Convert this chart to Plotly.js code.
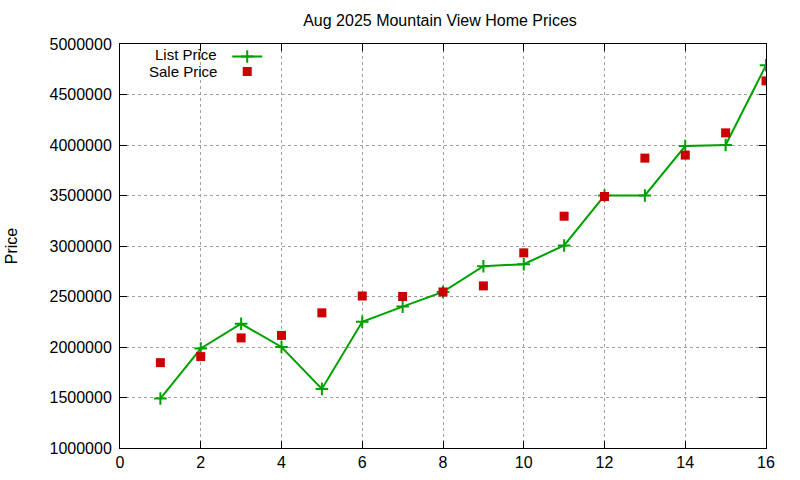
<!DOCTYPE html>
<html>
<head>
<meta charset="utf-8">
<script src="https://cdn.plot.ly/plotly-3.0.1.min.js"></script>
<style>
  body { margin: 0; background: #fff; }
  #chart { width: 800px; height: 480px; }
</style>
</head>
<body>
<div id="chart"></div>
<script>
// values
var homes = [1, 2, 3, 4, 5, 6, 7, 8, 9, 10, 11, 12, 13, 14, 15, 16];
var listPrice = [1490000, 1985000, 2230000, 2000000, 1585000, 2250000, 2400000, 2545000,
                 2800000, 2820000, 3005000, 3500000, 3500000, 3990000, 4000000, 4790000];
var salePrice = [1845000, 1905000, 2090000, 2115000, 2338000, 2505000, 2500000, 2545000,
                 2605000, 2932000, 3295000, 3490000, 3870000, 3900000, 4120000, 4635000];
var seriesNames = ['List Price', 'Sale Price'];

var green = '#00a000';
var red = '#cc0000';
var font = 'Liberation Sans, Arial, sans-serif';

var listTrace = {
    x: homes,
    y: listPrice,
    mode: 'lines+markers',
    line: {color: green, width: 2},
    marker: {symbol: 'cross-thin', size: 9, line: {color: green, width: 2}},
    name: ' ',
    legend: 'legend',
    hoverinfo: 'x+y'
};
var saleTrace = {
    x: homes,
    y: salePrice,
    mode: 'markers',
    marker: {symbol: 'square', size: 9, color: red},
    name: ' ',
    legend: 'legend2',
    hoverinfo: 'x+y'
};

var axisBase = {
    showline: true,
    linecolor: '#000',
    linewidth: 1,
    mirror: 'ticks',
    ticks: 'inside',
    ticklen: 7,
    tickcolor: '#000',
    showgrid: true,
    gridcolor: '#a0a0a0',
    griddash: 'dot',
    gridwidth: 1,
    zeroline: false,
    tickfont: {family: font, size: 16, color: '#000'}
};

// gnuplot-style key: label on the left, sample on the right
var keyBase = {
    xanchor: 'left', yanchor: 'top',
    bgcolor: 'rgba(0,0,0,0)',
    font: {family: font, size: 10},
    itemwidth: 30
};

var layout = {
    width: 800,
    height: 480,
    margin: {l: 120, r: 34, t: 44, b: 32},
    paper_bgcolor: '#fff',
    plot_bgcolor: '#fff',
    font: {family: font, size: 16, color: '#000'},
    title: {
        text: 'Aug 2025 Mountain View Home Prices',
        font: {family: font, size: 16, color: '#000'},
        x: 0.55, xanchor: 'center', y: 0.958, yanchor: 'middle'
    },
    xaxis: Object.assign({}, axisBase, {range: [0, 16], dtick: 2, tick0: 0}),
    yaxis: Object.assign({}, axisBase, {
        range: [1000000, 5000000], dtick: 500000, tickformat: 'd',
        ticklabelstandoff: 4,
        title: {text: 'Price', font: {family: font, size: 16}, standoff: 27}
    }),
    showlegend: true,
    legend: Object.assign({}, keyBase, {x: 0.166, y: 1.005}),
    legend2: Object.assign({}, keyBase, {x: 0.166, y: 0.968}),
    annotations: [
        {text: seriesNames[0], xref: 'paper', yref: 'paper', x: 0.152, y: 0.9728,
         xanchor: 'right', yanchor: 'middle', showarrow: false, borderpad: 0,
         font: {family: font, size: 15}},
        {text: seriesNames[1], xref: 'paper', yref: 'paper', x: 0.152, y: 0.9307,
         xanchor: 'right', yanchor: 'middle', showarrow: false, borderpad: 0,
         font: {family: font, size: 15}}
    ]
};

Plotly.newPlot('chart', [listTrace, saleTrace], layout, {displayModeBar: false, staticPlot: true});
</script>
</body>
</html>
